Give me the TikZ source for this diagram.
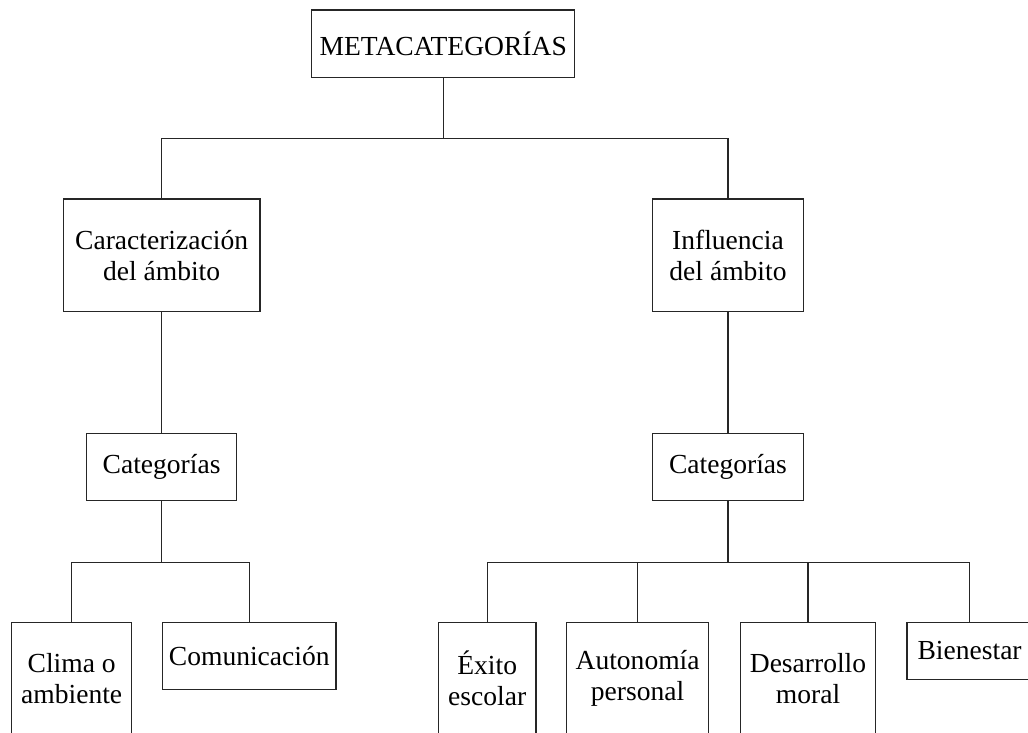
\documentclass[tikz,border=0pt]{standalone}
\usepackage{fontspec}
\setmainfont{Liberation Serif}
\usepackage{tikz}
\usetikzlibrary{positioning,calc}

\tikzset{
    catbox/.style={draw=black!85, line width=0.45pt, align=center, inner sep=0pt,
        font=\fontsize{9.8}{11}\selectfont},
    link/.style={draw=black!85, line width=0.45pt}
}

\begin{document}
\begin{tikzpicture}
    \useasboundingbox (0,0) rectangle (12.85,-9.1625);

    % Top level
    \node[catbox, minimum width=3.29cm, minimum height=0.84cm] (meta) at (5.54,-0.546) {METACATEGORÍAS};

    % Metacategories
    \node[catbox, minimum width=2.46cm, minimum height=1.405cm] (carac) at (2.02,-3.19) {Caracterización\\del ámbito};
    \node[catbox, minimum width=1.88cm, minimum height=1.405cm] (influ) at (9.1,-3.19) {Influencia\\del ámbito};

    % Categories
    \node[catbox, minimum width=1.88cm, minimum height=0.834cm] (catL) at (2.02,-5.84) {Categorías};
    \node[catbox, minimum width=1.88cm, minimum height=0.834cm] (catR) at (9.1,-5.84) {Categorías};

    % Leaves
    \node[catbox, minimum width=1.5cm, minimum height=1.405cm] (clima) at (0.896,-8.48) {Clima o\\ambiente};
    \node[catbox, minimum width=2.166cm, minimum height=0.834cm] (comun) at (3.116,-8.2) {Comunicación};
    \node[catbox, minimum width=1.22cm, minimum height=1.405cm] (exito) at (6.09,-8.48) {Éxito\\escolar};
    \node[catbox, minimum width=1.775cm, minimum height=1.405cm] (auton) at (7.97,-8.48) {Autonomía\\personal};
    \node[catbox, minimum width=1.68cm, minimum height=1.405cm] (desar) at (10.1,-8.48) {Desarrollo\\moral};
    \node[catbox, minimum width=1.565cm, minimum height=0.708cm] (bien) at (12.12,-8.1375) {Bienestar};

    % Connectors
    \draw[link] (meta.south) -- ++(0,-0.755) coordinate (jT);
    \draw[link] (carac.north) |- (jT) -| (influ.north);
    \draw[link] (carac.south) -- (catL.north);
    \draw[link] (influ.south) -- (catR.north);

    \draw[link] (catL.south) -- ++(0,-0.762) coordinate (jL);
    \draw[link] (clima.north) |- (jL) -| (comun.north);

    \draw[link] (catR.south) -- ++(0,-0.762) coordinate (jR);
    \draw[link] (exito.north) |- (jR) -| (bien.north);
    \draw[link] (auton.north) -- (auton.north |- jR);
    \draw[link] (desar.north) -- (desar.north |- jR);
\end{tikzpicture}
\end{document}
